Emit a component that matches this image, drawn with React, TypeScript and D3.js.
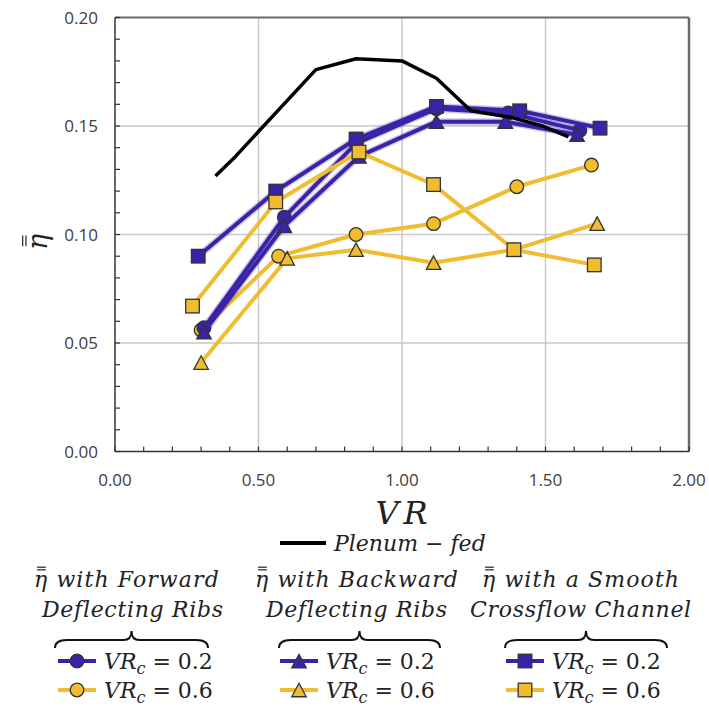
import React from "react";
import * as d3 from "d3";

// Plenum-fed reference curve
const plenumVR = [0.35, 0.42, 0.70, 0.84, 1.00, 1.12, 1.24, 1.38, 1.49, 1.58];
const plenumEta = [0.127, 0.136, 0.176, 0.181, 0.180, 0.172, 0.157, 0.154, 0.150, 0.145];

// Forward deflecting ribs
const fwd02VR = [0.31, 0.59, 0.84, 1.12, 1.37, 1.62];
const fwd02Eta = [0.057, 0.108, 0.142, 0.158, 0.156, 0.148];
const fwd06VR = [0.30, 0.57, 0.84, 1.11, 1.40, 1.66];
const fwd06Eta = [0.056, 0.090, 0.100, 0.105, 0.122, 0.132];

// Backward deflecting ribs
const bwd02VR = [0.31, 0.59, 0.85, 1.12, 1.36, 1.61];
const bwd02Eta = [0.055, 0.104, 0.136, 0.152, 0.152, 0.146];
const bwd06VR = [0.30, 0.60, 0.84, 1.11, 1.39, 1.68];
const bwd06Eta = [0.041, 0.089, 0.093, 0.087, 0.093, 0.105];

// Smooth crossflow channel
const smooth02VR = [0.29, 0.56, 0.84, 1.12, 1.41, 1.69];
const smooth02Eta = [0.090, 0.120, 0.144, 0.159, 0.157, 0.149];
const smooth06VR = [0.27, 0.56, 0.85, 1.11, 1.39, 1.67];
const smooth06Eta = [0.067, 0.115, 0.138, 0.123, 0.093, 0.086];

const xTickLabels = ["0.00", "0.50", "1.00", "1.50", "2.00"];
const yTickLabels = ["0.00", "0.05", "0.10", "0.15", "0.20"];

const BLUE = "#3c22a8";
const YELLOW = "#f0bd30";
const OUTLINE = "#333333";
const SERIF = "'DejaVu Serif', serif";
const SANS = "'Open Sans', 'Liberation Sans', sans-serif";
const TXT = "#222";

type Shape = "circle" | "triangle" | "square";

const x = d3.scaleLinear().domain([0, 2]).range([115, 689]);
const y = d3.scaleLinear().domain([0, 0.2]).range([451.5, 17.5]);

function Marker({ cx, cy, shape, color }: { cx: number; cy: number; shape: Shape; color: string }) {
  if (shape === "circle") {
    return <circle cx={cx} cy={cy} r={6.8} fill={color} stroke={OUTLINE} strokeWidth={1.3} />;
  }
  if (shape === "square") {
    return <rect x={cx - 6.8} y={cy - 6.8} width={13.6} height={13.6} fill={color} stroke={OUTLINE} strokeWidth={1.3} />;
  }
  const h = 13.5;
  const w = 14.5;
  const p = `M${cx},${cy - h / 2}L${cx + w / 2},${cy + h / 2}L${cx - w / 2},${cy + h / 2}Z`;
  return <path d={p} fill={color} stroke={OUTLINE} strokeWidth={1.3} />;
}

function Series({ vr, eta, shape, color }: { vr: number[]; eta: number[]; shape: Shape; color: string }) {
  const pts: [number, number][] = vr.map((v, i) => [x(v), y(eta[i])]);
  const line = d3.line()(pts) || "";
  return (
    <g>
      {color === BLUE && <path d={line} fill="none" stroke={color} strokeOpacity={0.25} strokeWidth={7} strokeLinejoin="round" />}
      <path d={line} fill="none" stroke={color} strokeWidth={4} strokeLinejoin="round" />
      {pts.map((p, i) => (
        <Marker key={i} cx={p[0]} cy={p[1]} shape={shape} color={color} />
      ))}
    </g>
  );
}

function Brace({ x0, x1, yb }: { x0: number; x1: number; yb: number }) {
  const cx = (x0 + x1) / 2;
  const top = yb - 5;
  const d = `M${x0},${yb + 8} Q${x0},${yb} ${x0 + 12},${yb} L${cx - 8},${yb} Q${cx},${yb} ${cx},${top - 4} Q${cx},${yb} ${cx + 8},${yb} L${x1 - 12},${yb} Q${x1},${yb} ${x1},${yb + 8}`;
  return <path d={d} fill="none" stroke="#111" strokeWidth={2} />;
}

function EtaBars({ x0, yb, size }: { x0: number; yb: number; size: number }) {
  const w = size * 0.4;
  const dx = size * 0.14;
  const y1 = yb - size * 0.78;
  const y2 = yb - size * 0.9;
  return (
    <g stroke={TXT} strokeWidth={1.2}>
      <line x1={x0 + dx} x2={x0 + dx + w} y1={y1} y2={y1} />
      <line x1={x0 + dx} x2={x0 + dx + w} y1={y2} y2={y2} />
    </g>
  );
}

const LEG_FS = 22;
const LEG_LS = 1.1;

function Header({ x0, yb, rest }: { x0: number; yb: number; rest: string }) {
  return (
    <g>
      <text x={x0} y={yb} fontFamily={SERIF} fontStyle="italic" fontSize={LEG_FS} letterSpacing={LEG_LS} fill={TXT}>
        η {rest}
      </text>
      <EtaBars x0={x0} yb={yb} size={LEG_FS} />
    </g>
  );
}

function SubLine({ x0, yb, label }: { x0: number; yb: number; label: string }) {
  return (
    <text x={x0} y={yb} fontFamily={SERIF} fontStyle="italic" fontSize={LEG_FS} letterSpacing={0.7} fill={TXT}>
      {label}
    </text>
  );
}

function LegendEntry({ lx, ly, shape, color, value }: { lx: number; ly: number; shape: Shape; color: string; value: string }) {
  return (
    <g>
      <line x1={lx} x2={lx + 38} y1={ly} y2={ly} stroke={color} strokeWidth={4} />
      <Marker cx={lx + 19} cy={ly} shape={shape} color={color} />
      <text x={lx + 46} y={ly + 8} fontFamily={SERIF} fontStyle="italic" fontSize={22} fill={TXT}>
        VR<tspan fontSize={16} dy={5}>c</tspan>
        <tspan dy={-5} fontStyle="normal"> = {value}</tspan>
      </text>
    </g>
  );
}

export default function App() {
  const xMinor = d3.range(0, 2.0001, 0.1);
  const yMinor = d3.range(0, 0.20001, 0.01);
  const xMajor = [0, 0.5, 1, 1.5, 2];
  const yMajor = [0, 0.05, 0.1, 0.15, 0.2];
  const plenumPts: [number, number][] = plenumVR.map((v, i) => [x(v), y(plenumEta[i])]);

  return (
    <svg width={709} height={706} style={{ position: "absolute", left: 0, top: 0, background: "#fff" }}>
      {/* grid */}
      {xMajor.slice(1, -1).map((v) => (
        <line key={"gx" + v} x1={x(v)} x2={x(v)} y1={y(0)} y2={y(0.2)} stroke="#c9c9c9" strokeWidth={1.5} />
      ))}
      {yMajor.slice(1, -1).map((v) => (
        <line key={"gy" + v} x1={x(0)} x2={x(2)} y1={y(v)} y2={y(v)} stroke="#c9c9c9" strokeWidth={1.5} />
      ))}
      {/* frame */}
      <line x1={x(0)} x2={x(2)} y1={y(0.2)} y2={y(0.2)} stroke="#6a6a6a" strokeWidth={2} />
      <line x1={x(2)} x2={x(2)} y1={y(0)} y2={y(0.2)} stroke="#6a6a6a" strokeWidth={2.5} />

      {/* ticks */}
      {xMinor.map((v, i) => (
        <line key={"tx" + i} x1={x(v)} x2={x(v)} y1={y(0)} y2={y(0) - 5} stroke="#333" strokeWidth={1.2} />
      ))}
      {yMinor.map((v, i) => (
        <line key={"ty" + i} x1={x(0)} x2={x(0) + 5} y1={y(v)} y2={y(v)} stroke="#333" strokeWidth={1.2} />
      ))}
      <line x1={x(0)} x2={x(2)} y1={y(0)} y2={y(0)} stroke="#333" strokeWidth={1.5} />
      <line x1={x(0)} x2={x(0)} y1={y(0)} y2={y(0.2)} stroke="#333" strokeWidth={1.5} />

      {/* tick labels */}
      {xMajor.map((v, i) => (
        <text key={"lx" + i} x={x(v)} y={y(0) + 34} textAnchor="middle" fontFamily={SANS} fontSize={17} fill="#404040">
          {xTickLabels[i]}
        </text>
      ))}
      {yMajor.map((v, i) => (
        <text key={"ly" + i} x={98} y={y(v) + 6} textAnchor="end" fontFamily={SANS} fontSize={17} fill="#404040">
          {yTickLabels[i]}
        </text>
      ))}

      {/* axis titles */}
      <text x={x(1) + 2} y={524} textAnchor="middle" fontFamily={SERIF} fontStyle="italic" fontSize={32} letterSpacing={5} fill={TXT}>
        VR
      </text>
      <g transform="translate(47,250) rotate(-90)">
        <text x={0} y={0} fontFamily={SERIF} fontStyle="italic" fontSize={27} fill={TXT}>η</text>
        <EtaBars x0={0} yb={0} size={27} />
      </g>

      {/* data series */}
      <Series vr={fwd06VR} eta={fwd06Eta} shape="circle" color={YELLOW} />
      <Series vr={bwd06VR} eta={bwd06Eta} shape="triangle" color={YELLOW} />
      <Series vr={fwd02VR} eta={fwd02Eta} shape="circle" color={BLUE} />
      <Series vr={smooth02VR} eta={smooth02Eta} shape="square" color={BLUE} />
      <Series vr={bwd02VR} eta={bwd02Eta} shape="triangle" color={BLUE} />
      <Series vr={smooth06VR} eta={smooth06Eta} shape="square" color={YELLOW} />
      <path d={d3.line()(plenumPts) || ""} fill="none" stroke="#000" strokeWidth={3.5} strokeLinejoin="round" />

      {/* legend */}
      <line x1={280} x2={326} y1={543} y2={543} stroke="#000" strokeWidth={4} />
      <text x={334} y={551} fontFamily={SERIF} fontStyle="italic" fontSize={22} fill={TXT}>
        Plenum − fed
      </text>

      <Header x0={34} yb={587} rest="with Forward" />
      <SubLine x0={42} yb={617} label="Deflecting Ribs" />
      <Header x0={255} yb={587} rest="with Backward" />
      <SubLine x0={266} yb={617} label="Deflecting Ribs" />
      <Header x0={482} yb={587} rest="with a Smooth" />
      <SubLine x0={470} yb={617} label="Crossflow Channel" />

      <Brace x0={55} x1={208} yb={640} />
      <Brace x0={279} x1={440} yb={640} />
      <Brace x0={505} x1={667} yb={640} />

      <LegendEntry lx={58} ly={661} shape="circle" color={BLUE} value="0.2" />
      <LegendEntry lx={58} ly={690} shape="circle" color={YELLOW} value="0.6" />
      <LegendEntry lx={280} ly={661} shape="triangle" color={BLUE} value="0.2" />
      <LegendEntry lx={280} ly={690} shape="triangle" color={YELLOW} value="0.6" />
      <LegendEntry lx={506} ly={661} shape="square" color={BLUE} value="0.2" />
      <LegendEntry lx={506} ly={690} shape="square" color={YELLOW} value="0.6" />
    </svg>
  );
}
